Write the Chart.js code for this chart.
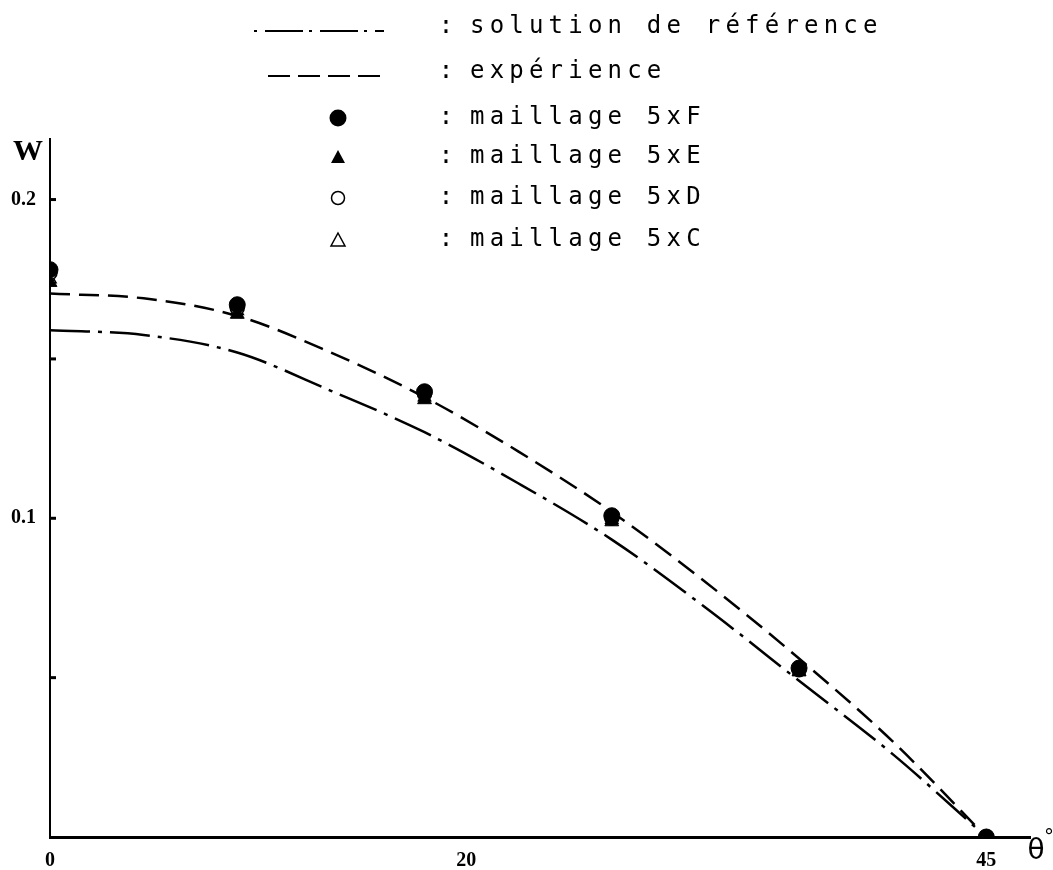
<!DOCTYPE html>
<html>
<head>
<meta charset="utf-8">
<script src="https://cdn.jsdelivr.net/npm/chart.js@4.4.1/dist/chart.umd.min.js"></script>
<style>
  html, body { margin: 0; padding: 0; background: #fff; }
  #wrap { width: 1053px; height: 870px; position: relative; }
</style>
</head>
<body>
<div id="wrap"><canvas id="wChart"></canvas></div>
<script>
// Angle (degrees) for the two curves
const thetaCurve = [0, 4.5, 9, 13.5, 18, 22.5, 27, 31.5, 36, 40.5, 45];
// solution de reference (dash-dot)
const wReference = [0.159, 0.1575, 0.152, 0.140, 0.127, 0.111, 0.0933, 0.072, 0.049, 0.026, 0];
// experience (dashed)
const wExperience = [0.1705, 0.169, 0.1635, 0.152, 0.138, 0.121, 0.102, 0.080, 0.056, 0.030, 0];

// Mesh results
const thetaMesh = [0, 9, 18, 27, 36, 45];
const w5xF = [0.178, 0.167, 0.1397, 0.1008, 0.0530, 0];
const w5xE = [0.174, 0.164, 0.1372, 0.0989, 0.0518, 0];
const w5xD = [0.177, 0.166, 0.1390, 0.1000, 0.0525, 0];
const w5xC = [0.175, 0.165, 0.1380, 0.0995, 0.0520, 0];

// Axis ticks
const xTicks = [0, 20, 45];
const yTicks = [0.05, 0.1, 0.15, 0.2];
const yLabelled = [0.1, 0.2];

// Legend entries
const legendLabels = ['solution de référence', 'expérience', 'maillage 5xF', 'maillage 5xE', 'maillage 5xD', 'maillage 5xC'];

const toPoints = (xs, ys) => xs.map((x, i) => ({ x: x, y: ys[i] }));

// Draws the legend, axis names and the inward tick marks
const decorations = {
    id: 'decorations',
    afterDraw(chart) {
        const ctx = chart.ctx;
        const yScale = chart.scales.y;
        const area = chart.chartArea;
        ctx.save();
        ctx.strokeStyle = '#000';
        ctx.fillStyle = '#000';

        // small tick marks pointing into the plot
        ctx.lineWidth = 3;
        yTicks.forEach(v => {
            const py = yScale.getPixelForValue(v);
            ctx.beginPath();
            ctx.moveTo(area.left, py);
            ctx.lineTo(area.left + 6, py);
            ctx.stroke();
        });

        // axis names
        ctx.font = 'bold 30px "Liberation Serif", serif';
        ctx.textAlign = 'center';
        ctx.textBaseline = 'middle';
        ctx.fillText('W', 28, 152);
        ctx.font = '28px "DejaVu Sans", sans-serif';
        ctx.fillText('θ', 1036, 852);
        ctx.font = '20px "DejaVu Sans", sans-serif';
        ctx.fillText('°', 1049, 838);

        // legend
        const rows = [27, 72, 118, 157, 198, 240];
        ctx.font = '24px "DejaVu Sans Mono", monospace';
        legendLabels.forEach((t, i) => ctx.fillText(':', 446, rows[i]));
        ctx.letterSpacing = '5.2px';
        ctx.textAlign = 'left';
        legendLabels.forEach((t, i) => ctx.fillText(t, 470, rows[i]));
        ctx.letterSpacing = '0px';

        ctx.lineWidth = 2;
        ctx.setLineDash([3, 8, 38, 6]);
        ctx.beginPath();
        ctx.moveTo(254, rows[0] + 4);
        ctx.lineTo(384, rows[0] + 4);
        ctx.stroke();
        ctx.setLineDash([22, 8]);
        ctx.beginPath();
        ctx.moveTo(268, rows[1] + 4);
        ctx.lineTo(386, rows[1] + 4);
        ctx.stroke();
        ctx.setLineDash([]);

        const mx = 338;
        ctx.beginPath();
        ctx.arc(mx, rows[2], 8.5, 0, Math.PI * 2);
        ctx.fill();
        ctx.beginPath();
        ctx.moveTo(mx, rows[3] - 7);
        ctx.lineTo(mx + 7, rows[3] + 6);
        ctx.lineTo(mx - 7, rows[3] + 6);
        ctx.closePath();
        ctx.fill();
        ctx.lineWidth = 1.5;
        ctx.beginPath();
        ctx.arc(mx, rows[4], 6.5, 0, Math.PI * 2);
        ctx.stroke();
        ctx.beginPath();
        ctx.moveTo(mx, rows[5] - 7);
        ctx.lineTo(mx + 7, rows[5] + 6);
        ctx.lineTo(mx - 7, rows[5] + 6);
        ctx.closePath();
        ctx.stroke();
        ctx.restore();
    }
};

const ctx = document.getElementById('wChart').getContext('2d');
const wChart = new Chart(ctx, {
    type: 'scatter',
    data: {
        datasets: [
            {
                label: 'maillage 5xF',
                data: toPoints(thetaMesh, w5xF),
                pointStyle: 'circle',
                pointRadius: 8,
                backgroundColor: '#000',
                borderColor: '#000',
            },
            {
                label: 'maillage 5xE',
                data: toPoints(thetaMesh, w5xE),
                pointStyle: 'triangle',
                pointRadius: 8,
                backgroundColor: '#000',
                borderColor: '#000',
            },
            {
                label: 'maillage 5xD',
                data: toPoints(thetaMesh, w5xD),
                pointStyle: 'circle',
                pointRadius: 7,
                backgroundColor: '#fff',
                borderColor: '#000',
                borderWidth: 1.5,
            },
            {
                label: 'maillage 5xC',
                data: toPoints(thetaMesh, w5xC),
                pointStyle: 'triangle',
                pointRadius: 7,
                backgroundColor: '#fff',
                borderColor: '#000',
                borderWidth: 1.5,
            },
            {
                label: 'expérience',
                data: toPoints(thetaCurve, wExperience),
                showLine: true,
                borderColor: '#000',
                borderWidth: 2.5,
                borderDash: [20, 9],
                pointRadius: 0,
                cubicInterpolationMode: 'monotone',
            },
            {
                label: 'solution de référence',
                data: toPoints(thetaCurve, wReference),
                showLine: true,
                borderColor: '#000',
                borderWidth: 2.5,
                borderDash: [40, 8, 4, 8],
                pointRadius: 0,
                cubicInterpolationMode: 'monotone',
            },
        ],
    },
    options: {
        responsive: true,
        maintainAspectRatio: false,
        animation: false,
        layout: { padding: { top: 139, right: 23, left: 0, bottom: 0 } },
        plugins: {
            legend: { display: false },
            tooltip: { enabled: false },
        },
        scales: {
            x: {
                type: 'linear',
                min: 0,
                max: 47.1,
                afterFit: scale => { scale.height = 33; },
                afterBuildTicks: scale => { scale.ticks = xTicks.map(v => ({ value: v })); },
                grid: { display: false },
                border: { display: true, color: '#000', width: 3 },
                ticks: {
                    color: '#000',
                    padding: 4,
                    maxRotation: 0,
                    autoSkip: false,
                    font: { family: '"Liberation Serif", serif', weight: 'bold', size: 20 },
                },
            },
            y: {
                type: 'linear',
                min: 0,
                max: 0.219,
                afterFit: scale => { scale.width = 50; },
                afterBuildTicks: scale => { scale.ticks = yTicks.map(v => ({ value: v })); },
                grid: { display: false },
                border: { display: true, color: '#000', width: 2 },
                ticks: {
                    color: '#000',
                    padding: 6,
                    autoSkip: false,
                    font: { family: '"Liberation Serif", serif', weight: 'bold', size: 20 },
                    callback: v => (yLabelled.includes(v) ? v.toFixed(1) : ''),
                },
            },
        },
    },
    plugins: [decorations],
});
</script>
</body>
</html>
